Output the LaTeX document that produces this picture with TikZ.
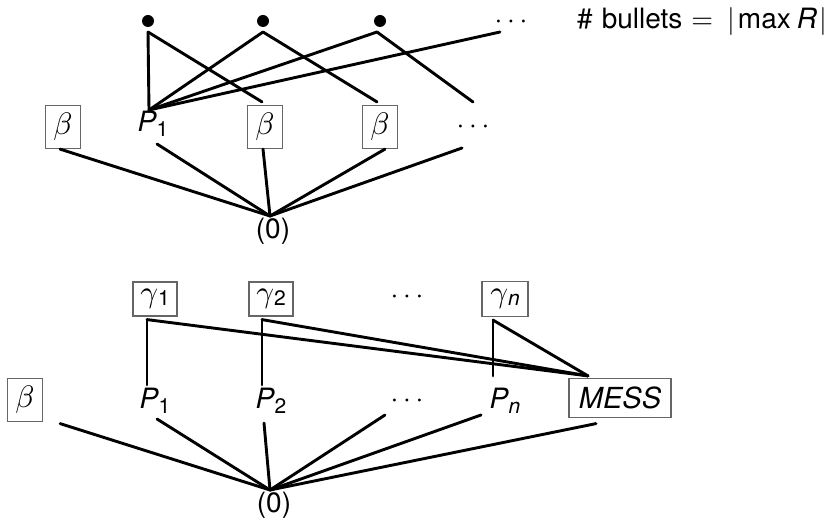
\documentclass[tikz,border=0pt]{standalone}
\usepackage{fontspec}
\setmainfont{TeX Gyre Heros}
% math glyphs are set at 10pt and magnified to the label size
\newcommand{\mbig}[2][2.8]{\scalebox{#1}{\normalsize$#2$}}
\newcommand{\grkb}{\mbig[3.1]{\beta}}
\newcommand{\subt}[1]{\raisebox{-5pt}{\fontsize{21}{22}\selectfont #1}}
\newcommand{\gsub}[1]{\mbig[3.1]{\gamma}\raisebox{-3pt}{\fontsize{21}{22}\selectfont #1}}
\begin{document}
\begin{tikzpicture}[x=1pt,y=-1pt,
  every node/.style={font=\fontsize{28}{32}\selectfont},
  lbl/.style={inner sep=0pt},
  box/.style={draw=black!60, line width=1.2pt, inner sep=1pt},
  bbox/.style={box, minimum width=35pt, minimum height=43pt},
  gbox/.style={box, minimum width=44pt, minimum height=34pt},
  dot/.style={circle, fill, inner sep=0pt, minimum size=12pt},
  edge/.style={line width=2.9pt, line cap=round}]
\useasboundingbox (0,0) rectangle (838,521);

% ---------- upper lattice ----------
\node[dot] (b1) at (148,21) {};
\node[dot] (b2) at (263,21) {};
\node[dot] (b3) at (380,21) {};
\node[lbl] (td) at (511,22) {\mbig{\cdots}};
\node[lbl, anchor=base west] (count) at (577,29)
  {\mbig{\#}\hspace{9pt}bullets\hspace{9pt}\mbig{=}\hspace{14pt}\mbig{|}\hspace{3pt}max\hspace{6pt}\textit{R}\hspace{2pt}\mbig{|}};

\node[bbox] (a1) at (63,127) {\grkb};
\node[lbl] (p1) at (153,124) {\textit{P}\subt{1}};
\node[bbox] (a2) at (265,127) {\grkb};
\node[bbox] (a3) at (380,127) {\grkb};
\node[lbl] (rd) at (473,127) {\mbig{\cdots}};
\node[lbl] (o1) at (273,231) {(0)};

% bullets down to the row
\draw[edge] ([yshift=-11pt]b1.center) -- ([shift={(-4pt,14pt)}]p1.center);
\draw[edge] ([yshift=-11pt]b1.center) -- ([shift={(-3pt,3pt)}]a2.north);
\draw[edge] ([yshift=-11pt]b2.center) -- ([shift={(-4pt,14pt)}]p1.center);
\draw[edge] ([yshift=-11pt]b2.center) -- ([shift={(-3pt,3pt)}]a3.north);
\draw[edge] ([shift={(-3pt,-11pt)}]b3.center) -- ([shift={(-4pt,14pt)}]p1.center);
\draw[edge] ([shift={(-3pt,-11pt)}]b3.center) -- ([yshift=25pt]rd.center);
\draw[edge] ([shift={(-11pt,-10pt)}]td.center) -- ([shift={(-4pt,14pt)}]p1.center);

% row down to (0)
\draw[edge] ([xshift=-3pt]a1.south) -- ([shift={(-3pt,15pt)}]o1.center);
\draw[edge] ([shift={(4pt,-20pt)}]p1.center) -- ([shift={(-3pt,15pt)}]o1.center);
\draw[edge] ([xshift=-2pt]a2.south) -- ([shift={(-3pt,15pt)}]o1.center);
\draw[edge] ([xshift=5pt]a3.south) -- ([shift={(-3pt,15pt)}]o1.center);
\draw[edge] ([shift={(-11pt,-21pt)}]rd.center) -- ([shift={(-3pt,15pt)}]o1.center);

% ---------- lower lattice ----------
\node[gbox] (g1) at (155,299) {\gsub{1}};
\node[gbox] (g2) at (271,299) {\gsub{2}};
\node[lbl] (gd) at (407,297) {\mbig{\cdots}};
\node[gbox, minimum width=46pt, minimum height=35pt] (gn) at (505,299) {\gsub{\itshape n}};

\node[bbox] (c0) at (25,400) {\grkb};
\node[lbl] (q1) at (155,401) {\textit{P}\subt{1}};
\node[lbl] (q2) at (271,401) {\textit{P}\subt{2}};
\node[lbl] (qd) at (407,401) {\mbig{\cdots}};
\node[lbl] (qn) at (505,401) {\textit{P}\subt{\itshape n}};
\node[box, minimum width=102pt, minimum height=39pt] (mess) at (620,398)
  {\fontsize{29}{32}\selectfont\textit{MESS}};
\node[lbl] (o2) at (274,505) {(0)};

% gammas down to the row
\draw[edge] ([shift={(-8pt,-3pt)}]g1.south) -- ([shift={(-8pt,16pt)}]q1.center);
\draw[edge] ([shift={(-8pt,-3pt)}]g1.south) -- ([shift={(-32pt,2pt)}]mess.north);
\draw[edge] ([shift={(-9pt,-3pt)}]g2.south) -- ([shift={(-9pt,16pt)}]q2.center);
\draw[edge] ([shift={(-9pt,-3pt)}]g2.south) -- ([shift={(-32pt,2pt)}]mess.north);
\draw[edge] ([shift={(-12pt,-3pt)}]gn.south) -- ([shift={(-12pt,25pt)}]qn.center);
\draw[edge] ([shift={(-12pt,-3pt)}]gn.south) -- ([shift={(-32pt,2pt)}]mess.north);

% row down to (0)
\draw[edge] ([shift={(17pt,-1.5pt)}]c0.south east) -- ([shift={(-4pt,15pt)}]o2.center);
\draw[edge] ([shift={(2pt,-18pt)}]q1.center) -- ([shift={(-4pt,15pt)}]o2.center);
\draw[edge] ([shift={(-7pt,-22pt)}]q2.center) -- ([shift={(-4pt,15pt)}]o2.center);
\draw[edge] ([shift={(-22pt,-14pt)}]qd.center) -- ([shift={(-4pt,15pt)}]o2.center);
\draw[edge] ([shift={(-24pt,-14pt)}]qn.center) -- ([shift={(-4pt,15pt)}]o2.center);
\draw[edge] ([shift={(-24pt,-5.5pt)}]mess.south) -- ([shift={(-4pt,15pt)}]o2.center);
\end{tikzpicture}
\end{document}
